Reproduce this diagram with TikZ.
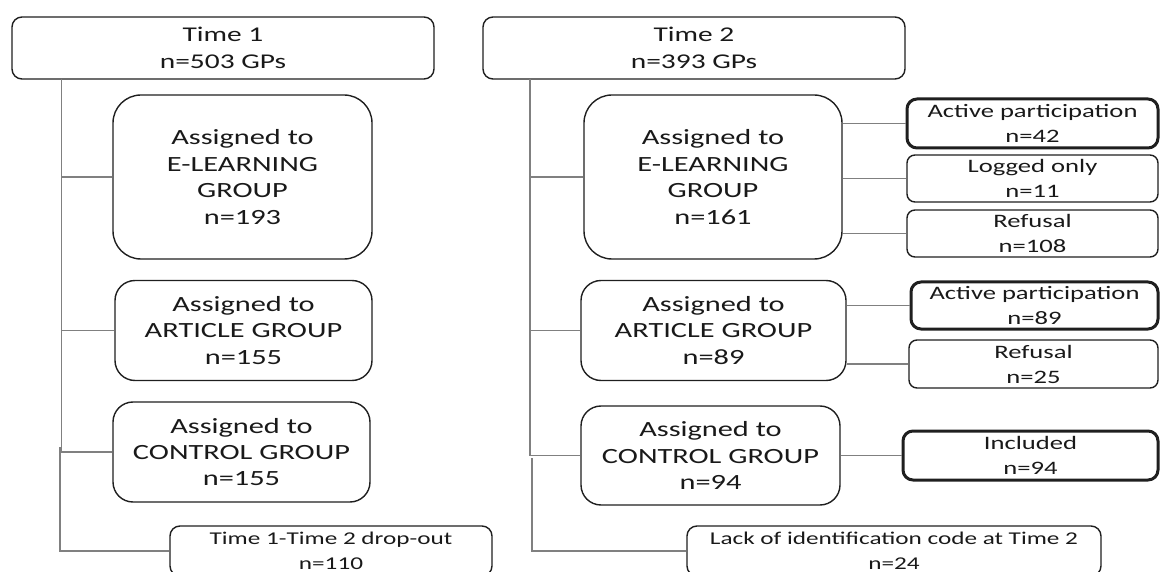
\documentclass[tikz,border=0pt]{standalone}
\usepackage{fontspec}
\setmainfont{Carlito}[FakeStretch=1.4]
\begin{document}
\begin{tikzpicture}[x=1pt,y=-1pt,
  box/.style={draw=black!88, line width=1.4pt, rounded corners=#1, align=center, inner sep=0pt, text=black!90},
  box/.default=8pt,
  thickbox/.style={box=10pt, line width=3pt},
  big/.style={font=\fontsize{21.7}{26.4}\selectfont},
  head/.style={font=\fontsize{21}{27}\selectfont},
  small/.style={font=\fontsize{19}{25}\selectfont},
  foot/.style={font=\fontsize{18}{25}\selectfont},
  conn/.style={draw=black!50, line width=1.3pt}]
\useasboundingbox (0,0) rectangle (1160,572);
\clip (0,0) rectangle (1160,572);
% ---------- Time 1 ----------
\node[box=10pt, head, minimum width=422pt, minimum height=62pt] (t1) at (223,48) {Time 1\\n=503 GPs};
\node[box=28pt, big, minimum width=259pt, minimum height=164pt] (e1) at (242.5,177) {Assigned to\\E-LEARNING\\GROUP\\n=193};
\node[box=20pt, big, minimum width=257pt, minimum height=100pt] (a1) at (243.5,330.5) {Assigned to\\ARTICLE GROUP\\n=155};
\node[box=20pt, big, minimum width=257pt, minimum height=100pt] (c1) at (241.5,452) {Assigned to\\CONTROL GROUP\\n=155};
\node[box=10pt, foot, minimum width=322pt, minimum height=50pt] (d1) at (331,551) {Time 1-Time 2 drop-out\\n=110};
\coordinate (j1) at (61.5,79);
\coordinate (j1b) at (60,447);
\draw[conn] (j1) |- (e1.west);
\draw[conn] (j1) |- (a1.west);
\draw[conn] (j1) |- (c1.west);
\draw[conn] (j1b) |- (d1.west);
% ---------- Time 2 ----------
\node[box=10pt, head, minimum width=422pt, minimum height=62pt] (t2) at (694,48) {Time 2\\n=393 GPs};
\node[box=28pt, big, minimum width=258pt, minimum height=164pt] (e2) at (713,177) {Assigned to\\E-LEARNING\\GROUP\\n=161};
\node[box=20pt, big, minimum width=265pt, minimum height=100pt] (a2) at (713.5,330.5) {Assigned to\\ARTICLE GROUP\\n=89};
\node[box=20pt, big, minimum width=259pt, minimum height=99pt] (c2) at (710.5,455.5) {Assigned to\\CONTROL GROUP\\n=94};
\node[box=10pt, foot, minimum width=414pt, minimum height=50pt] (lk) at (894,551) {Lack of identification code at Time 2\\n=24};
\node[thickbox, small, minimum width=251pt, minimum height=49pt] (p42) at (1032.5,123.5) {Active participation\\n=42};
\node[box, small, minimum width=251pt, minimum height=47pt] (l11) at (1032.5,178.5) {Logged only\\n=11};
\node[box, small, minimum width=251pt, minimum height=47pt] (r108) at (1032.5,233.5) {Refusal\\n=108};
\node[thickbox, small, minimum width=247pt, minimum height=47pt] (p89) at (1034.5,305.5) {Active participation\\n=89};
\node[box, small, minimum width=249pt, minimum height=48pt] (r25) at (1033.5,364) {Refusal\\n=25};
\node[thickbox, small, minimum width=255pt, minimum height=49pt] (inc) at (1030.5,455.5) {Included\\n=94};
\coordinate (j2) at (530,79);
\coordinate (j2b) at (532,458);
\draw[conn] (j2) |- (e2.west);
\draw[conn] (j2) |- (a2.west);
\draw[conn] (j2) |- (c2.west);
\draw[conn] (j2b) |- (lk.west);
\draw[conn] (e2.east |- p42.west) -- (p42.west);
\draw[conn] (e2.east |- l11.west) -- (l11.west);
\draw[conn] (e2.east |- r108.west) -- (r108.west);
\draw[conn] (a2.east |- p89.west) -- (p89.west);
\draw[conn] (a2.east |- r25.west) -- (r25.west);
\draw[conn] (c2.east |- inc.west) -- (inc.west);
\end{tikzpicture}
\end{document}
